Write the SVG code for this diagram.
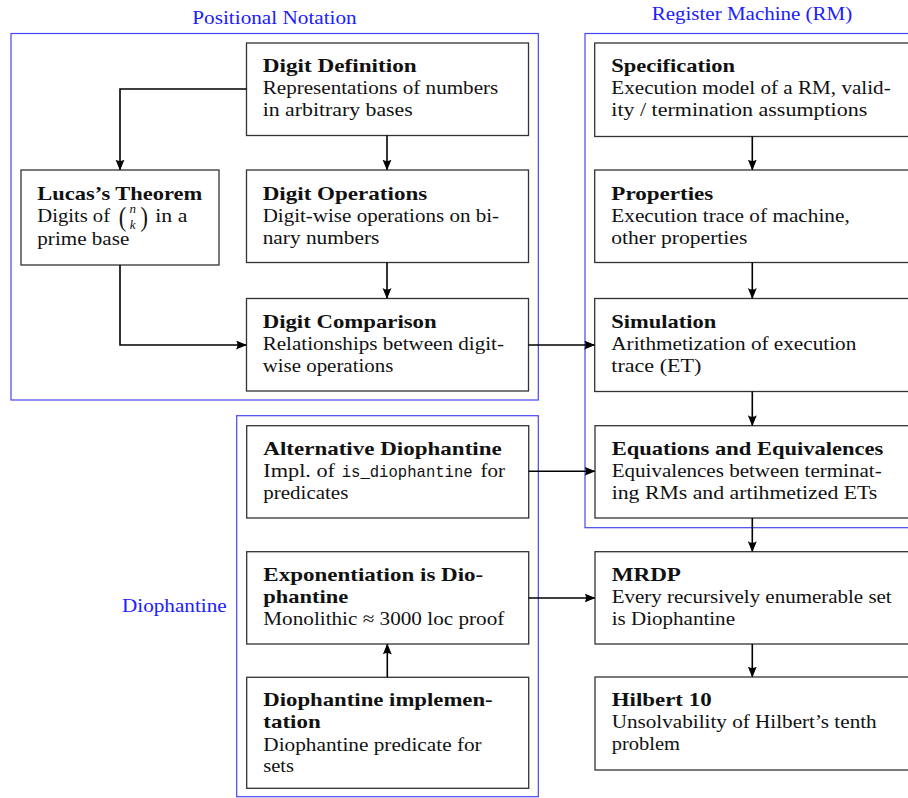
<svg xmlns="http://www.w3.org/2000/svg" width="908" height="798" viewBox="0 0 908 798">
<style>
  .box { fill: #ffffff; stroke: #333333; stroke-width: 1.3; }
  .frame { fill: none; stroke: #4545f5; stroke-width: 1.2; }
  .t { font-family: "Liberation Serif", "Times New Roman", serif; font-size: 19px; fill: #111111; }
  .b { font-weight: bold; }
  .lbl { font-family: "Liberation Serif", "Times New Roman", serif; font-size: 19px; fill: #2020ff; }
  .mono { font-family: "Liberation Mono", "Courier New", monospace; font-size: 17px; fill: #111111; }
  .conn { fill: none; stroke: #000000; stroke-width: 1.6; }
</style>
<defs>
  <marker id="arr" markerWidth="12" markerHeight="10" refX="10" refY="4.5" orient="auto" markerUnits="userSpaceOnUse">
    <path d="M0,0 Q3,4.5 0,9 L11,4.5 Z" fill="#000000"/>
  </marker>
</defs>
<rect x="0" y="0" width="908" height="798" fill="#ffffff"/>

<g id="frames">
  <g id="frame-positional">
    <rect class="frame" x="11" y="33.5" width="527.3" height="366.5"/>
    <text class="lbl" x="192.3" y="24" textLength="164.4" lengthAdjust="spacingAndGlyphs">Positional Notation</text>
  </g>
  <g id="frame-rm">
    <rect class="frame" x="585" y="33.5" width="330" height="494.2"/>
    <text class="lbl" x="651.7" y="19.5" textLength="200.6" lengthAdjust="spacingAndGlyphs">Register Machine (RM)</text>
  </g>
  <g id="frame-diophantine">
    <rect class="frame" x="236.7" y="415.7" width="301.6" height="381"/>
    <text class="lbl" x="122" y="612" textLength="104.7" lengthAdjust="spacingAndGlyphs">Diophantine</text>
  </g>
</g>

<g id="digit-definition">
  <rect class="box" x="246.5" y="43" width="282" height="92.5"/>
  <text class="t b" x="262.7" y="72" textLength="154" lengthAdjust="spacingAndGlyphs">Digit Definition</text>
  <text class="t" x="262.7" y="94" textLength="235.6" lengthAdjust="spacingAndGlyphs">Representations of numbers</text>
  <text class="t" x="262.7" y="116" textLength="150" lengthAdjust="spacingAndGlyphs">in arbitrary bases</text>
</g>

<g id="lucas">
  <rect class="box" x="21" y="170" width="198" height="95"/>
  <text class="t b" x="37.3" y="199.5" textLength="165" lengthAdjust="spacingAndGlyphs">Lucas’s Theorem</text>
  <text class="t" x="37.3" y="221.5" textLength="72.7" lengthAdjust="spacingAndGlyphs">Digits of</text>
  <text class="t" x="118.8" y="226" style="font-size:28px" transform="translate(118.8 226) scale(0.8 1) translate(-118.8 -226)">(</text>
  <text class="t" x="140.5" y="226" style="font-size:28px" transform="translate(140.5 226) scale(0.8 1) translate(-140.5 -226)">)</text>
  <text class="t" x="132.7" y="213.3" style="font-size:13px;font-style:italic" text-anchor="middle">n</text>
  <text class="t" x="132.7" y="229" style="font-size:13px;font-style:italic" text-anchor="middle">k</text>
  <text class="t" x="155.3" y="221.5" textLength="32" lengthAdjust="spacingAndGlyphs">in a</text>
  <text class="t" x="37.3" y="245" textLength="92" lengthAdjust="spacingAndGlyphs">prime base</text>
</g>

<g id="digit-operations">
  <rect class="box" x="246.5" y="170" width="282" height="92.5"/>
  <text class="t b" x="262.7" y="199.5" textLength="164.6" lengthAdjust="spacingAndGlyphs">Digit Operations</text>
  <text class="t" x="262.7" y="221.5" textLength="236.3" lengthAdjust="spacingAndGlyphs">Digit-wise operations on bi-</text>
  <text class="t" x="262.7" y="243.5" textLength="116.6" lengthAdjust="spacingAndGlyphs">nary numbers</text>
</g>

<g id="digit-comparison">
  <rect class="box" x="246.5" y="298.5" width="282" height="92.5"/>
  <text class="t b" x="262.7" y="327.5" textLength="174" lengthAdjust="spacingAndGlyphs">Digit Comparison</text>
  <text class="t" x="262.7" y="349.5" textLength="241.3" lengthAdjust="spacingAndGlyphs">Relationships between digit-</text>
  <text class="t" x="262.7" y="371.5" textLength="130.6" lengthAdjust="spacingAndGlyphs">wise operations</text>
</g>

<g id="specification">
  <rect class="box" x="594.7" y="43" width="320" height="93.5"/>
  <text class="t b" x="611.3" y="72" textLength="123.7" lengthAdjust="spacingAndGlyphs">Specification</text>
  <text class="t" x="611.3" y="94" textLength="279.4" lengthAdjust="spacingAndGlyphs">Execution model of a RM, valid-</text>
  <text class="t" x="611.3" y="116" textLength="256" lengthAdjust="spacingAndGlyphs">ity / termination assumptions</text>
</g>

<g id="properties">
  <rect class="box" x="594.7" y="170" width="320" height="92.5"/>
  <text class="t b" x="611.3" y="199.5" textLength="102" lengthAdjust="spacingAndGlyphs">Properties</text>
  <text class="t" x="611.3" y="221.5" textLength="238.4" lengthAdjust="spacingAndGlyphs">Execution trace of machine,</text>
  <text class="t" x="611.3" y="243.5" textLength="136" lengthAdjust="spacingAndGlyphs">other properties</text>
</g>

<g id="simulation">
  <rect class="box" x="594.7" y="298.5" width="320" height="93"/>
  <text class="t b" x="611.3" y="327.5" textLength="105" lengthAdjust="spacingAndGlyphs">Simulation</text>
  <text class="t" x="611.3" y="349.5" textLength="245" lengthAdjust="spacingAndGlyphs">Arithmetization of execution</text>
  <text class="t" x="611.3" y="371.5" textLength="90" lengthAdjust="spacingAndGlyphs">trace (ET)</text>
</g>

<g id="equations">
  <rect class="box" x="595" y="425.7" width="320" height="92.3"/>
  <text class="t b" x="611.7" y="454.7" textLength="271.6" lengthAdjust="spacingAndGlyphs">Equations and Equivalences</text>
  <text class="t" x="611.7" y="476.7" textLength="270" lengthAdjust="spacingAndGlyphs">Equivalences between terminat-</text>
  <text class="t" x="611.7" y="498.7" textLength="265.6" lengthAdjust="spacingAndGlyphs">ing RMs and artihmetized ETs</text>
</g>

<g id="mrdp">
  <rect class="box" x="595" y="551.7" width="320" height="92.3"/>
  <text class="t b" x="611.7" y="580.7" textLength="69.3" lengthAdjust="spacingAndGlyphs">MRDP</text>
  <text class="t" x="611.7" y="602.7" textLength="280" lengthAdjust="spacingAndGlyphs">Every recursively enumerable set</text>
  <text class="t" x="611.7" y="624.7" textLength="123.3" lengthAdjust="spacingAndGlyphs">is Diophantine</text>
</g>

<g id="hilbert10">
  <rect class="box" x="595" y="677" width="320" height="93"/>
  <text class="t b" x="611.7" y="706" textLength="100" lengthAdjust="spacingAndGlyphs">Hilbert 10</text>
  <text class="t" x="611.7" y="728" textLength="265" lengthAdjust="spacingAndGlyphs">Unsolvability of Hilbert’s tenth</text>
  <text class="t" x="611.7" y="750" textLength="68.3" lengthAdjust="spacingAndGlyphs">problem</text>
</g>

<g id="alternative-diophantine">
  <rect class="box" x="246.7" y="425.7" width="282" height="92.3"/>
  <text class="t b" x="263.3" y="454.7" textLength="238.4" lengthAdjust="spacingAndGlyphs">Alternative Diophantine</text>
  <text class="t" x="263.3" y="476.7" textLength="71.7" lengthAdjust="spacingAndGlyphs">Impl. of</text>
  <text class="mono" x="341.7" y="476.7" textLength="131" lengthAdjust="spacingAndGlyphs">is_diophantine</text>
  <text class="t" x="480.5" y="476.7" textLength="24.5" lengthAdjust="spacingAndGlyphs">for</text>
  <text class="t" x="263.3" y="498.7" textLength="85" lengthAdjust="spacingAndGlyphs">predicates</text>
</g>

<g id="exponentiation">
  <rect class="box" x="246.7" y="551.7" width="282" height="92.3"/>
  <text class="t b" x="263.3" y="580.7" textLength="220" lengthAdjust="spacingAndGlyphs">Exponentiation is Dio-</text>
  <text class="t b" x="263.3" y="602.7" textLength="85" lengthAdjust="spacingAndGlyphs">phantine</text>
  <text class="t" x="263.3" y="624.7" textLength="241" lengthAdjust="spacingAndGlyphs">Monolithic ≈ 3000 loc proof</text>
</g>

<g id="diophantine-implementation">
  <rect class="box" x="246.7" y="677.3" width="282" height="111"/>
  <text class="t b" x="263.3" y="706.3" textLength="229.4" lengthAdjust="spacingAndGlyphs">Diophantine implemen-</text>
  <text class="t b" x="263.3" y="728.3" textLength="57.4" lengthAdjust="spacingAndGlyphs">tation</text>
  <text class="t" x="263.3" y="750.5" textLength="218.4" lengthAdjust="spacingAndGlyphs">Diophantine predicate for</text>
  <text class="t" x="263.3" y="772.3" textLength="30.7" lengthAdjust="spacingAndGlyphs">sets</text>
</g>

<g id="connectors">
  <path class="conn" d="M246.5,89 H120 V169.5" marker-end="url(#arr)"/>
  <path class="conn" d="M387,135.5 V169.5" marker-end="url(#arr)"/>
  <path class="conn" d="M387,262.5 V298" marker-end="url(#arr)"/>
  <path class="conn" d="M120,265 V345 H246" marker-end="url(#arr)"/>
  <path class="conn" d="M528.5,345 H594.2" marker-end="url(#arr)"/>
  <path class="conn" d="M752.3,136.5 V169.5" marker-end="url(#arr)"/>
  <path class="conn" d="M752.3,262.5 V298" marker-end="url(#arr)"/>
  <path class="conn" d="M752.3,391.5 V425.2" marker-end="url(#arr)"/>
  <path class="conn" d="M752.3,518 V551.2" marker-end="url(#arr)"/>
  <path class="conn" d="M752.3,644 V676.5" marker-end="url(#arr)"/>
  <path class="conn" d="M528.7,471.3 H594.5" marker-end="url(#arr)"/>
  <path class="conn" d="M528.7,598 H594.5" marker-end="url(#arr)"/>
  <path class="conn" d="M387.3,677.3 V644.5" marker-end="url(#arr)"/>
</g>
</svg>
